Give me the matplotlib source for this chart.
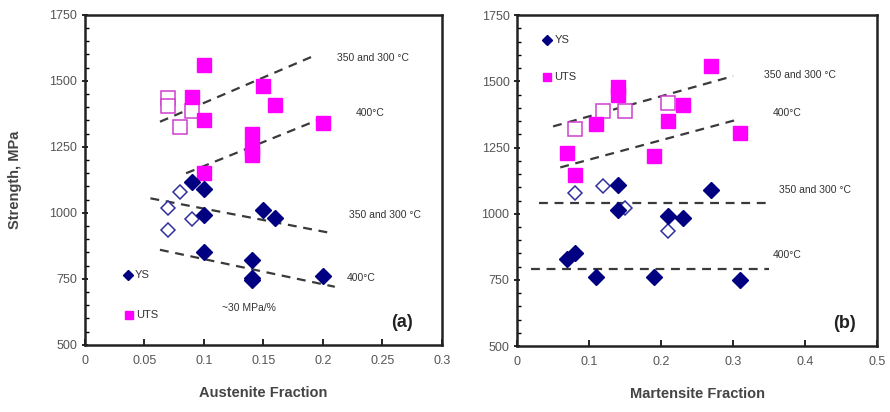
import matplotlib
matplotlib.use("Agg")
import matplotlib.pyplot as plt
from matplotlib.ticker import MultipleLocator

plt.rcParams['font.family'] = ['Liberation Sans', 'DejaVu Sans']

# ---- Panel (a): strength vs austenite fraction ----
a_uts_x = [0.10, 0.09, 0.10, 0.15, 0.16, 0.14, 0.14, 0.14, 0.20, 0.10]
a_uts_y = [1560, 1440, 1350, 1480, 1410, 1300, 1240, 1220, 1340, 1150]
a_uts_open_x = [0.07, 0.07, 0.08, 0.09]
a_uts_open_y = [1435, 1405, 1325, 1385]
a_ys_x = [0.09, 0.10, 0.10, 0.15, 0.16, 0.10, 0.14, 0.14, 0.14, 0.20]
a_ys_y = [1115, 1090, 990, 1010, 980, 850, 820, 755, 745, 760]
a_ys_open_x = [0.08, 0.07, 0.09, 0.07]
a_ys_open_y = [1080, 1020, 975, 935]
# trend lines: (x0, x1), (y0, y1)
a_fit_uts_hi = ((0.063, 0.19), (1345, 1590))
a_fit_uts_400 = ((0.085, 0.203), (1150, 1365))
a_fit_ys_hi = ((0.055, 0.205), (1055, 925))
a_fit_ys_400 = ((0.063, 0.21), (860, 720))

# ---- Panel (b): strength vs martensite fraction ----
b_uts_x = [0.27, 0.14, 0.14, 0.23, 0.11, 0.21, 0.07, 0.08, 0.19, 0.31]
b_uts_y = [1560, 1480, 1450, 1410, 1340, 1350, 1230, 1145, 1220, 1305]
b_uts_open_x = [0.08, 0.12, 0.15, 0.21]
b_uts_open_y = [1320, 1390, 1390, 1420]
b_ys_x = [0.14, 0.27, 0.14, 0.21, 0.23, 0.07, 0.08, 0.11, 0.19, 0.31]
b_ys_y = [1110, 1090, 1015, 990, 985, 830, 850, 760, 760, 750]
b_ys_open_x = [0.08, 0.12, 0.15, 0.21]
b_ys_open_y = [1080, 1105, 1020, 935]
b_fit_uts_hi = ((0.05, 0.30), (1330, 1520))
b_fit_uts_400 = ((0.06, 0.305), (1175, 1355))
b_fit_ys_hi = ((0.03, 0.35), (1040, 1040))
b_fit_ys_400 = ((0.02, 0.35), (790, 790))

y_ticks = [500, 750, 1000, 1250, 1500, 1750]
a_x_ticks = [0, 0.05, 0.1, 0.15, 0.2, 0.25, 0.3]
a_x_labels = ['0', '0.05', '0.1', '0.15', '0.2', '0.25', '0.3']
b_x_ticks = [0, 0.1, 0.2, 0.3, 0.4, 0.5]
b_x_labels = ['0', '0.1', '0.2', '0.3', '0.4', '0.5']

UTS_C = '#ff00ff'
UTS_OPEN = '#d040d0'
YS_C = '#000080'
YS_OPEN = '#3030a0'
LINE_C = '#3a3a3a'
TXT_C = '#333333'

fig = plt.figure(figsize=(8.9, 4.12), dpi=100)
ax1 = fig.add_axes([0.0955, 0.163, 0.401, 0.801])
ax2 = fig.add_axes([0.581, 0.160, 0.4045, 0.803])


def style_axes(ax, xticks, xlabels, xlim, xlabel):
    ax.set_xlim(*xlim)
    ax.set_ylim(500, 1750)
    ax.set_xticks(xticks)
    ax.set_xticklabels(xlabels)
    ax.set_yticks(y_ticks)
    ax.yaxis.set_minor_locator(MultipleLocator(50))
    ax.tick_params(axis='y', which='major', direction='inout', length=5,
                   width=1.2, labelsize=9, labelcolor='#555555', pad=3)
    ax.tick_params(axis='y', which='minor', direction='in', length=3, width=1)
    ax.tick_params(axis='x', which='major', direction='in', length=4,
                   width=1.2, labelsize=9, labelcolor='#555555', pad=7)
    for s in ax.spines.values():
        s.set_linewidth(1.8)
        s.set_color('#222222')
    ax.set_xlabel(xlabel, fontsize=10.5, fontweight='bold', color='#444444',
                  labelpad=14)


def dashed(ax, fit):
    ax.plot(fit[0], fit[1], ls=(0, (4, 3)), color=LINE_C, lw=1.6, zorder=2)


def draw_points(ax, ux, uy, uox, uoy, yx, yy, yox, yoy):
    ax.plot(uox, uoy, ls='none', marker='s', ms=10, mfc='white',
            mec=UTS_OPEN, mew=1.1, zorder=3)
    ax.plot(ux, uy, ls='none', marker='s', ms=10.5, color=UTS_C, zorder=4)
    ax.plot(yox, yoy, ls='none', marker='D', ms=7, mfc='white',
            mec=YS_OPEN, mew=1.1, zorder=3)
    ax.plot(yx, yy, ls='none', marker='D', ms=8, color=YS_C, zorder=4)


# Panel (a)
style_axes(ax1, a_x_ticks, a_x_labels, (0, 0.3), 'Austenite Fraction')
ax1.set_ylabel('Strength, MPa', fontsize=10.5, fontweight='bold',
               color='#444444', labelpad=20)
for f in (a_fit_uts_hi, a_fit_uts_400, a_fit_ys_hi, a_fit_ys_400):
    dashed(ax1, f)
draw_points(ax1, a_uts_x, a_uts_y, a_uts_open_x, a_uts_open_y,
            a_ys_x, a_ys_y, a_ys_open_x, a_ys_open_y)
tk = dict(fontsize=7.5, color=TXT_C, ha='center', va='center')
ax1.text(0.242, 1587, '350 and 300 °C', **tk)
ax1.text(0.240, 1379, '400°C', **tk)
ax1.text(0.252, 992, '350 and 300 °C', **tk)
ax1.text(0.232, 754, '400°C', **tk)
ax1.text(0.1375, 640, '~30 MPa/%', **tk)
ax1.text(0.276, 583, '(a)', fontsize=13, fontweight='bold', color='#222222',
         ha='right', va='center')
# in-axes legend
ax1.plot([0.036], [765], ls='none', marker='D', ms=5, color=YS_C)
ax1.text(0.042, 765, 'YS', fontsize=8, color=TXT_C, va='center')
ax1.plot([0.037], [614], ls='none', marker='s', ms=6, color=UTS_C)
ax1.text(0.043, 614, 'UTS', fontsize=8, color=TXT_C, va='center')

# Panel (b)
style_axes(ax2, b_x_ticks, b_x_labels, (0, 0.5), 'Martensite Fraction')
for f in (b_fit_uts_hi, b_fit_uts_400, b_fit_ys_hi, b_fit_ys_400):
    dashed(ax2, f)
draw_points(ax2, b_uts_x, b_uts_y, b_uts_open_x, b_uts_open_y,
            b_ys_x, b_ys_y, b_ys_open_x, b_ys_open_y)
ax2.text(0.393, 1523, '350 and 300 °C', **tk)
ax2.text(0.375, 1380, '400°C', **tk)
ax2.text(0.414, 1089, '350 and 300 °C', **tk)
ax2.text(0.375, 843, '400°C', **tk)
ax2.text(0.470, 585, '(b)', fontsize=13, fontweight='bold', color='#222222',
         ha='right', va='center')
ax2.plot([0.042], [1655], ls='none', marker='D', ms=5, color=YS_C)
ax2.text(0.052, 1655, 'YS', fontsize=8, color=TXT_C, va='center')
ax2.plot([0.042], [1515], ls='none', marker='s', ms=6, color=UTS_C)
ax2.text(0.052, 1515, 'UTS', fontsize=8, color=TXT_C, va='center')

fig.savefig('out.png', dpi=100)
